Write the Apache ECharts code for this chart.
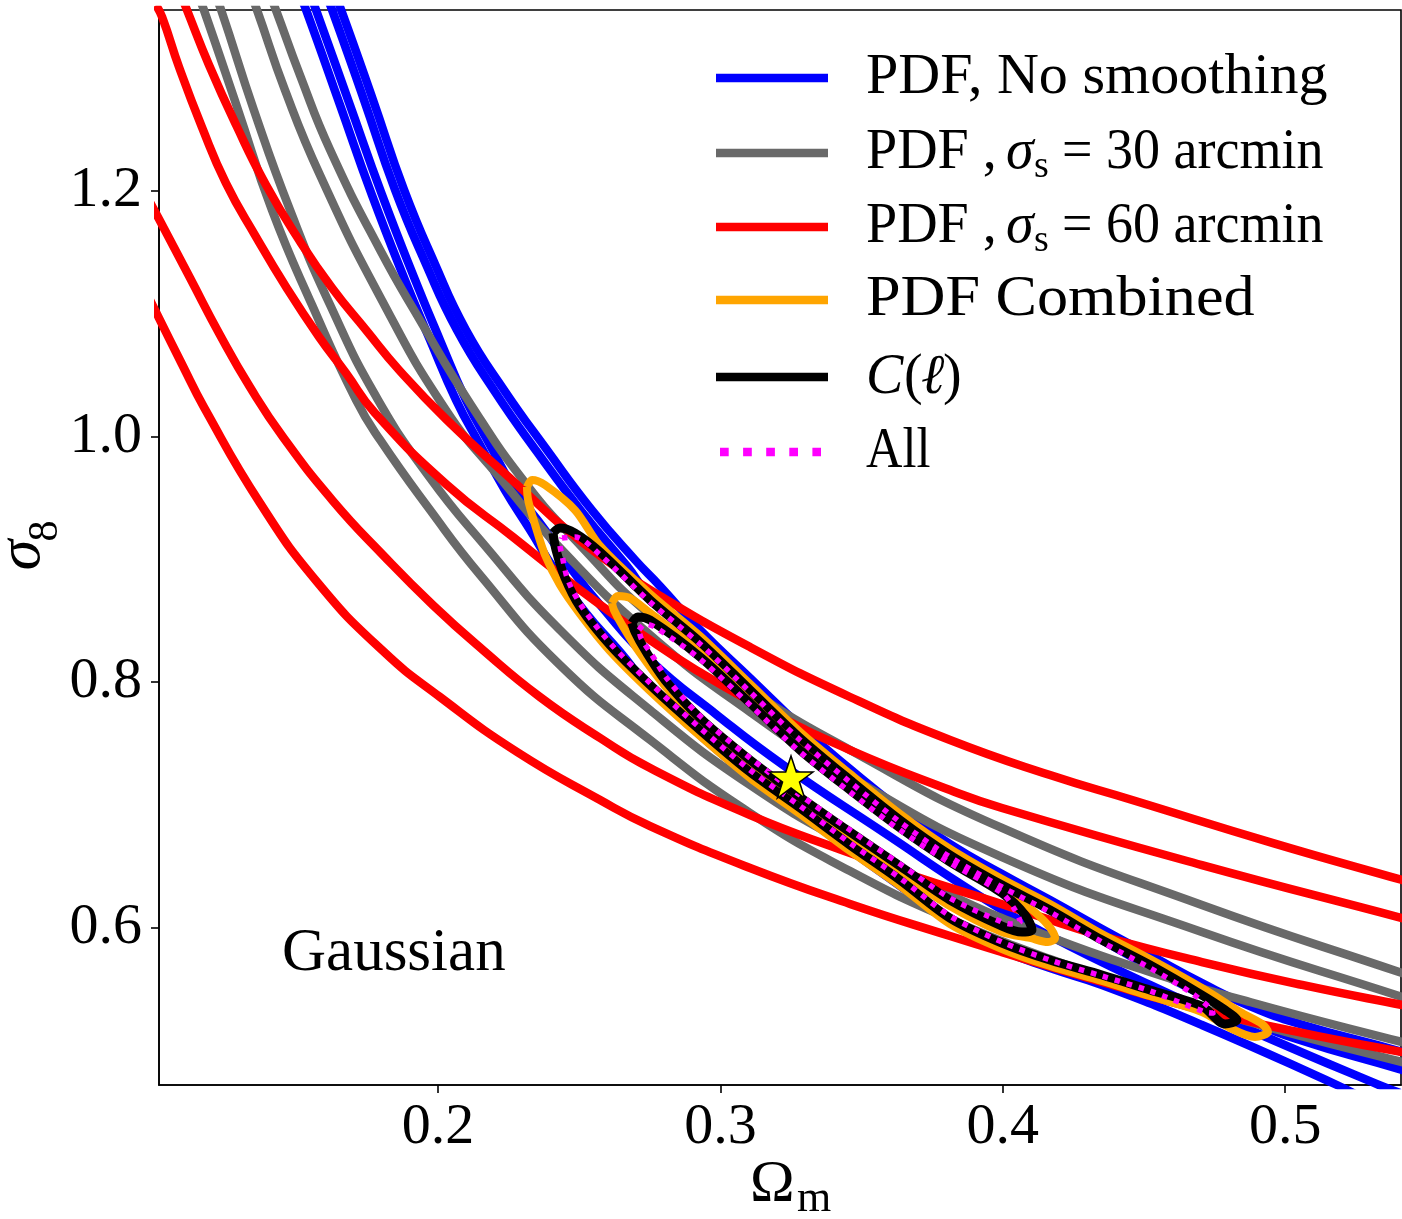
<!DOCTYPE html>
<html><head><meta charset="utf-8">
<script src="https://cdn.jsdelivr.net/npm/echarts@6/dist/echarts.min.js"></script>
<style>html,body{margin:0;padding:0;background:#fff}#c{width:1402px;height:1219px}</style>
</head><body><div id="c"></div>
<script>
const xTicks=[0.2,0.3,0.4,0.5];
const yTicks=[0.6,0.8,1.0,1.2];
const xRange=[0.1012,0.5410];
const yRange=[0.4717,1.3475];

// PDF, no smoothing (blue) - four open contour branches
const blueOuterLow=[[0.1511,1.3597],[0.1533,1.3475],[0.1653,1.2701],[0.1766,1.1967],[0.1883,1.1275],[0.1972,1.0786],[0.2064,1.0297],[0.2149,0.9931],[0.2237,0.9564],[0.2326,0.9238],[0.2414,0.8912],[0.2521,0.8570],[0.2645,0.8244],[0.2751,0.7951],[0.2928,0.7568],[0.3105,0.7226],[0.3282,0.6933],[0.3459,0.6631],[0.3636,0.6338],[0.3813,0.6045],[0.3997,0.5817],[0.4167,0.5670],[0.4351,0.5532],[0.4705,0.5206],[0.5183,0.4717],[0.5247,0.4644]];
const blueInnerLow=[[0.1547,1.3597],[0.1568,1.3475],[0.1688,1.2701],[0.1802,1.1967],[0.1919,1.1275],[0.2007,1.0786],[0.2099,1.0297],[0.2184,0.9931],[0.2273,0.9564],[0.2379,0.9238],[0.2467,0.8937],[0.2574,0.8627],[0.2751,0.8179],[0.2988,0.7731],[0.3222,0.7324],[0.3576,0.6778],[0.3930,0.6240],[0.4167,0.5931],[0.4521,0.5532],[0.4875,0.5165],[0.5332,0.4717],[0.5407,0.4652]];
const blueInnerUp=[[0.1603,1.3597],[0.1625,1.3475],[0.1738,1.2741],[0.1848,1.2008],[0.1954,1.1422],[0.2067,1.0868],[0.2202,1.0363],[0.2351,0.9874],[0.2510,0.9385],[0.2669,0.8945],[0.2751,0.8701],[0.2928,0.8342],[0.3105,0.7951],[0.3282,0.7560],[0.3459,0.7218],[0.3636,0.6892],[0.3813,0.6607],[0.3997,0.6354],[0.4167,0.6143],[0.4351,0.5898],[0.4521,0.5678],[0.4705,0.5450],[0.4875,0.5246],[0.5052,0.5084],[0.5414,0.4839],[0.5477,0.4782]];
const blueOuterUp=[[0.1635,1.3597],[0.1657,1.3475],[0.1770,1.2741],[0.1880,1.2008],[0.1986,1.1422],[0.2099,1.0868],[0.2234,1.0379],[0.2386,0.9890],[0.2545,0.9401],[0.2698,0.8994],[0.2786,0.8782],[0.2928,0.8424],[0.3105,0.8033],[0.3282,0.7642],[0.3459,0.7291],[0.3636,0.6965],[0.3813,0.6680],[0.3997,0.6436],[0.4167,0.6224],[0.4351,0.5988],[0.4521,0.5776],[0.4705,0.5548],[0.4875,0.5360],[0.5052,0.5214],[0.5414,0.4986],[0.5477,0.4937]];

// PDF, sigma_s = 30 arcmin (gray)
const gray1=[[0.1150,1.3597],[0.1171,1.3475],[0.1292,1.2660],[0.1412,1.1845],[0.1554,1.1071],[0.1710,1.0297],[0.1795,0.9972],[0.1972,0.9401],[0.2149,0.8872],[0.2432,0.8138],[0.2751,0.7528],[0.3105,0.6933],[0.3459,0.6460],[0.3813,0.6069],[0.4167,0.5743],[0.4521,0.5475],[0.4875,0.5230],[0.5414,0.4904],[0.5477,0.4872]];
const gray2=[[0.1210,1.3597],[0.1232,1.3475],[0.1348,1.2660],[0.1476,1.1845],[0.1618,1.1071],[0.1788,1.0297],[0.1972,0.9662],[0.2149,0.9157],[0.2432,0.8424],[0.2751,0.7772],[0.3105,0.7161],[0.3459,0.6672],[0.3813,0.6265],[0.4167,0.5923],[0.4521,0.5638],[0.4875,0.5393],[0.5414,0.5067],[0.5477,0.5035]];
const gray3=[[0.1338,1.3597],[0.1359,1.3475],[0.1458,1.2823],[0.1582,1.2130],[0.1795,1.1137],[0.2028,1.0216],[0.2220,0.9662],[0.2432,0.9092],[0.2751,0.8383],[0.3105,0.7756],[0.3459,0.7226],[0.3997,0.6574],[0.4705,0.5963],[0.5414,0.5434],[0.5477,0.5385]];
const gray4=[[0.1405,1.3597],[0.1426,1.3475],[0.1511,1.2945],[0.1618,1.2334],[0.1795,1.1519],[0.1936,1.0949],[0.2117,1.0257],[0.2315,0.9605],[0.2503,0.9116],[0.2751,0.8546],[0.3105,0.7935],[0.3459,0.7446],[0.3997,0.6811],[0.4705,0.6183],[0.5414,0.5629],[0.5477,0.5581]];

// PDF, sigma_s = 60 arcmin (red)
const red1=[[0.1090,1.3597],[0.1111,1.3475],[0.1189,1.3027],[0.1285,1.2538],[0.1391,1.2049],[0.1508,1.1601],[0.1625,1.1210],[0.1745,1.0868],[0.1862,1.0542],[0.2032,1.0134],[0.2301,0.9564],[0.2457,0.9238],[0.2620,0.8953],[0.2751,0.8750],[0.3105,0.8285],[0.3459,0.7878],[0.3813,0.7528],[0.4167,0.7242],[0.4458,0.7039],[0.4957,0.6688],[0.5414,0.6387],[0.5477,0.6346]];
const red2=[[0.1001,1.3515],[0.1023,1.3418],[0.1083,1.3010],[0.1164,1.2521],[0.1249,1.2065],[0.1356,1.1625],[0.1462,1.1218],[0.1579,1.0811],[0.1674,1.0517],[0.1777,1.0191],[0.2032,0.9605],[0.2266,0.9181],[0.2503,0.8750],[0.2751,0.8342],[0.2903,0.8114],[0.3165,0.7772],[0.3459,0.7446],[0.3813,0.7120],[0.3997,0.6974],[0.4705,0.6509],[0.5414,0.6077],[0.5477,0.6037]];
const red3=[[0.0980,1.1910],[0.1012,1.1772],[0.1122,1.1291],[0.1228,1.0827],[0.1334,1.0403],[0.1451,0.9996],[0.1628,0.9475],[0.1805,0.9035],[0.1982,0.8627],[0.2159,0.8261],[0.2361,0.7878],[0.2574,0.7544],[0.2751,0.7299],[0.3105,0.6916],[0.3459,0.6607],[0.3696,0.6411],[0.3930,0.6240],[0.4114,0.6102],[0.4351,0.5931],[0.4705,0.5719],[0.5060,0.5532],[0.5414,0.5369],[0.5477,0.5344]];
const red4=[[0.0980,1.1112],[0.1012,1.0965],[0.1093,1.0591],[0.1171,1.0240],[0.1370,0.9458],[0.1572,0.8815],[0.1805,0.8253],[0.2007,0.7878],[0.2280,0.7430],[0.2574,0.7039],[0.2751,0.6827],[0.3105,0.6485],[0.3459,0.6192],[0.3813,0.5931],[0.3997,0.5800],[0.4351,0.5556],[0.4705,0.5328],[0.5060,0.5141],[0.5414,0.4986],[0.5477,0.4961]];

// PDF Combined (orange) closed contours
const combOuter=[[0.2315,0.9589],[0.2333,0.9646],[0.2379,0.9605],[0.2485,0.9401],[0.2574,0.9108],[0.2751,0.8717],[0.2928,0.8375],[0.3105,0.7984],[0.3282,0.7593],[0.3459,0.7251],[0.3636,0.6925],[0.3813,0.6640],[0.3997,0.6395],[0.4167,0.6192],[0.4351,0.5947],[0.4521,0.5743],[0.4705,0.5507],[0.4840,0.5312],[0.4918,0.5214],[0.4939,0.5149],[0.4893,0.5108],[0.4805,0.5181],[0.4705,0.5312],[0.4521,0.5442],[0.4351,0.5564],[0.4167,0.5686],[0.3997,0.5825],[0.3813,0.6028],[0.3636,0.6338],[0.3459,0.6623],[0.3282,0.6925],[0.3105,0.7218],[0.2928,0.7560],[0.2751,0.7927],[0.2609,0.8253],[0.2503,0.8554],[0.2432,0.8790],[0.2379,0.9035],[0.2344,0.9279],[0.2319,0.9483],[0.2315,0.9589]];
const combInner=[[0.2616,0.8644],[0.2637,0.8701],[0.2680,0.8684],[0.2751,0.8562],[0.2928,0.8253],[0.3105,0.7878],[0.3282,0.7495],[0.3459,0.7169],[0.3636,0.6859],[0.3813,0.6583],[0.3997,0.6330],[0.4096,0.6159],[0.4160,0.6020],[0.4185,0.5915],[0.4160,0.5882],[0.4096,0.5915],[0.3997,0.5963],[0.3813,0.6175],[0.3636,0.6452],[0.3459,0.6729],[0.3282,0.7014],[0.3105,0.7316],[0.2928,0.7658],[0.2804,0.7967],[0.2715,0.8236],[0.2652,0.8464],[0.2623,0.8587],[0.2616,0.8644]];

// C(l) (black) closed contours
const clOuter=[[0.2407,0.9214],[0.2432,0.9255],[0.2485,0.9214],[0.2574,0.9059],[0.2751,0.8668],[0.2928,0.8326],[0.3105,0.7935],[0.3282,0.7544],[0.3459,0.7202],[0.3636,0.6876],[0.3813,0.6591],[0.3997,0.6346],[0.4167,0.6143],[0.4351,0.5898],[0.4521,0.5695],[0.4705,0.5450],[0.4787,0.5328],[0.4829,0.5246],[0.4787,0.5214],[0.4705,0.5360],[0.4521,0.5491],[0.4351,0.5613],[0.4167,0.5735],[0.3997,0.5874],[0.3813,0.6077],[0.3636,0.6387],[0.3459,0.6672],[0.3282,0.6974],[0.3105,0.7267],[0.2928,0.7609],[0.2751,0.7976],[0.2609,0.8301],[0.2503,0.8611],[0.2450,0.8847],[0.2418,0.9075],[0.2407,0.9214]];
const clInner=[[0.2687,0.8481],[0.2708,0.8530],[0.2751,0.8505],[0.2928,0.8204],[0.3105,0.7829],[0.3282,0.7446],[0.3459,0.7120],[0.3636,0.6811],[0.3813,0.6534],[0.3997,0.6281],[0.4079,0.6102],[0.4103,0.5980],[0.4068,0.5963],[0.3997,0.6012],[0.3813,0.6224],[0.3636,0.6501],[0.3459,0.6778],[0.3282,0.7063],[0.3105,0.7365],[0.2928,0.7707],[0.2804,0.8016],[0.2733,0.8261],[0.2698,0.8407],[0.2687,0.8481]];

// All (magenta dotted) closed contours
const allOuter=[[0.2439,0.9173],[0.2485,0.9181],[0.2574,0.9035],[0.2751,0.8652],[0.2928,0.8310],[0.3105,0.7919],[0.3282,0.7528],[0.3459,0.7185],[0.3636,0.6859],[0.3813,0.6574],[0.3997,0.6330],[0.4167,0.6126],[0.4351,0.5882],[0.4521,0.5670],[0.4663,0.5475],[0.4734,0.5344],[0.4744,0.5304],[0.4716,0.5312],[0.4521,0.5483],[0.4351,0.5605],[0.4167,0.5735],[0.3997,0.5882],[0.3813,0.6094],[0.3636,0.6403],[0.3459,0.6688],[0.3282,0.6990],[0.3105,0.7283],[0.2928,0.7625],[0.2751,0.7992],[0.2616,0.8301],[0.2513,0.8603],[0.2460,0.8831],[0.2439,0.9035],[0.2432,0.9116],[0.2439,0.9173]];
const allInner=[[0.2712,0.8424],[0.2733,0.8473],[0.2768,0.8448],[0.2928,0.8187],[0.3105,0.7813],[0.3282,0.7430],[0.3459,0.7104],[0.3636,0.6794],[0.3813,0.6526],[0.3997,0.6281],[0.4043,0.6143],[0.4061,0.6045],[0.4033,0.6028],[0.3997,0.6045],[0.3813,0.6240],[0.3636,0.6517],[0.3459,0.6794],[0.3282,0.7079],[0.3105,0.7381],[0.2928,0.7723],[0.2815,0.8016],[0.2751,0.8244],[0.2719,0.8358],[0.2712,0.8424]];

const fiducial=[[0.3250,0.7226]];

const legendNames=['PDF, No smoothing','30','60','PDF Combined','C','All'];

const C_BLUE='#0000ff',C_GRAY='#696969',C_RED='#ff0000',C_ORANGE='#ffa500',C_BLACK='#000000',C_MAG='#ff00ff';
const FONT='Liberation Serif';

function ln(data,color,width,z,dash,sm){
  return {type:'line',data:data,showSymbol:false,symbol:'none',smooth:sm,z:z,silent:true,clip:true,
    lineStyle:{color:color,width:width,type:dash||'solid',cap:'butt',join:'round'}};
}

const series=[];
[blueOuterLow,blueInnerLow,blueInnerUp,blueOuterUp].forEach(d=>series.push(ln(d,C_BLUE,8.5,2,null,0.5)));
[gray1,gray2,gray3,gray4].forEach(d=>series.push(ln(d,C_GRAY,8.5,3,null,0.5)));
[red1,red2,red3,red4].forEach(d=>series.push(ln(d,C_RED,8.5,4,null,0.5)));
[combOuter,combInner].forEach(d=>series.push(ln(d,C_ORANGE,8,5,null,0.3)));
[clOuter,clInner].forEach(d=>series.push(ln(d,C_BLACK,9,6,null,0.3)));
[allOuter,allInner].forEach(d=>series.push(ln(d,C_MAG,5.5,7,[5.5,7],0.3)));
series.push({type:'scatter',data:fiducial,z:8,silent:true,
  symbol:'path://M50,0 L61.8,35.3 L99,35.3 L68.9,57.1 L80.3,92.7 L50,70.6 L19.7,92.7 L31.1,57.1 L1,35.3 L38.2,35.3 Z',
  symbolSize:[44,42],itemStyle:{color:'#ffff00',opacity:1,borderColor:'#000',borderWidth:1.5}});

function txt(t,x,y,size,opts){
  opts=opts||{};
  return {type:'text',z:20,x:x,y:y,scaleX:opts.sx||1,style:{text:t,x:0,y:0,fontSize:size,fontFamily:FONT,fontStyle:opts.italic?'italic':'normal',
    fill:'#000',textAlign:opts.align||'left',textVerticalAlign:'middle'}};
}
function lg(y,color,dash,x1,x2){
  return {type:'line',z:20,shape:{x1:x1||716,y1:y,x2:x2||828,y2:y},style:{stroke:color,lineWidth:8.7,lineDash:dash||null,lineCap:'butt'}};
}

const graphic=[
  lg(78,C_BLUE),lg(153,C_GRAY),lg(227,C_RED),lg(300,C_ORANGE),lg(377,C_BLACK),lg(452,C_MAG,[8.7,14.4],720,821),
  txt(legendNames[0],866,78,56,{sx:1.037}),
  txt('PDF ,',866,153,56),txt('σ',1006,153,56,{italic:true}),txt('s',1034,167,38),txt('= '+legendNames[1]+' arcmin',1062,153,56,{sx:0.965}),
  txt('PDF ,',866,227,56),txt('σ',1006,227,56,{italic:true}),txt('s',1034,241,38),txt('= '+legendNames[2]+' arcmin',1062,227,56,{sx:0.965}),
  txt(legendNames[3],866,300,56,{sx:1.11}),
  txt(legendNames[4],866,378,56,{italic:true}),txt('(',904,378,56),txt('ℓ',921,378,56,{italic:true}),txt(')',943,378,56),
  txt(legendNames[5],866,452,56,{sx:0.9}),
  txt('Gaussian',282,954,61),
  txt('Ω',750,1185,60),txt('m',797,1199,44),
  {type:'group',x:36,y:548,rotation:Math.PI/2,children:[
    txt('σ',-7,-13,62,{italic:true,align:'center'}),
    txt('8',17,10,42,{align:'center'})
  ]}
];

const chart=echarts.init(document.getElementById('c'),null,{renderer:'canvas'});
chart.setOption({
  animation:false,
  backgroundColor:'#fff',
  grid:{left:159,top:10,right:1,bottom:134,show:true,borderColor:'#000',borderWidth:1.6,backgroundColor:'transparent'},
  xAxis:{type:'value',min:xRange[0],max:xRange[1],
    axisLine:{show:true,lineStyle:{color:'#000',width:1.6}},
    axisTick:{show:true,inside:false,length:8,lineStyle:{color:'#000',width:1.6},customValues:xTicks},
    axisLabel:{customValues:xTicks,formatter:v=>Number(v).toFixed(1),fontSize:58,fontFamily:FONT,color:'#000',margin:43,verticalAlign:'middle'},
    splitLine:{show:false}},
  yAxis:{type:'value',min:yRange[0],max:yRange[1],
    axisLine:{show:true,lineStyle:{color:'#000',width:1.6}},
    axisTick:{show:true,inside:false,length:8,lineStyle:{color:'#000',width:1.6},customValues:yTicks},
    axisLabel:{customValues:yTicks,formatter:v=>Number(v).toFixed(1),fontSize:58,fontFamily:FONT,color:'#000',margin:17},
    splitLine:{show:false}},
  series:series,
  graphic:graphic
});
</script></body></html>
